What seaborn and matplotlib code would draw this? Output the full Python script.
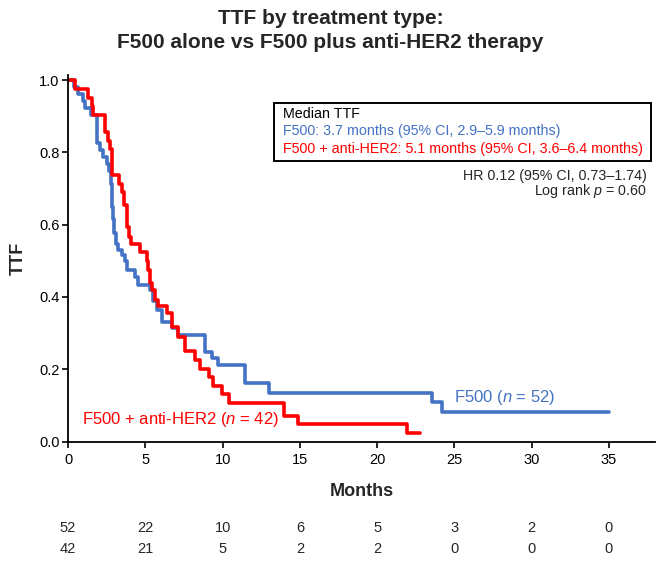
import matplotlib
matplotlib.use("Agg")
from matplotlib import pyplot as plt
from matplotlib.patches import Rectangle
import pandas as pd
import seaborn as sns

# Courbes de Kaplan-Meier (mois, TTF)
F500_MOIS = [0, 0.39, 0.67, 0.95, 1.07, 1.5, 1.9, 2.07, 2.29, 2.5, 2.67, 2.78, 2.83, 2.93,
             3.0, 3.1, 3.25, 3.47, 3.69, 3.84, 4.33, 4.55, 5.3, 5.5, 5.74, 6.06, 6.7, 7.1,
             8.86, 9.29, 9.72, 11.45, 13.02, 23.56, 24.23, 35.0]
F500_TTF = [1.0, 0.981, 0.962, 0.942, 0.923, 0.904, 0.827, 0.808, 0.788, 0.769, 0.75, 0.712,
            0.65, 0.615, 0.577, 0.548, 0.53, 0.516, 0.5, 0.474, 0.456, 0.433, 0.419, 0.39,
            0.364, 0.331, 0.313, 0.295, 0.248, 0.23, 0.212, 0.161, 0.135, 0.11, 0.081, 0.081]

HER2_MOIS = [0, 0.45, 1.31, 1.53, 1.64, 2.39, 2.61, 2.72, 2.83, 3.32, 3.47, 3.62, 3.79, 3.97,
             4.05, 4.66, 5.09, 5.2, 5.3, 5.41, 5.63, 5.84, 6.38, 6.7, 7.13, 7.57, 8.2, 8.54,
             9.1, 9.4, 9.94, 10.43, 13.99, 14.86, 21.95, 22.77]
HER2_TTF = [1.0, 0.976, 0.952, 0.929, 0.905, 0.857, 0.833, 0.81, 0.738, 0.714, 0.69, 0.655,
            0.594, 0.567, 0.548, 0.524, 0.5, 0.476, 0.438, 0.419, 0.393, 0.374, 0.355, 0.318,
            0.29, 0.25, 0.226, 0.202, 0.178, 0.155, 0.131, 0.107, 0.071, 0.048, 0.024, 0.024]

XTICKS = [0, 5, 10, 15, 20, 25, 30, 35]
YTICKS = [0.0, 0.2, 0.4, 0.6, 0.8, 1.0]
RISQUE_F500 = [52, 22, 10, 6, 5, 3, 2, 0]
RISQUE_HER2 = [42, 21, 5, 2, 2, 0, 0, 0]

BLEU = "#4472C4"
ROUGE = "#FF0000"

sns.set_theme(style="ticks")
plt.rcParams["font.family"] = ["Liberation Sans", "DejaVu Sans"]
plt.rcParams["mathtext.fontset"] = "custom"
plt.rcParams["mathtext.rm"] = "Liberation Sans"
plt.rcParams["mathtext.it"] = "Liberation Sans:italic"

df = pd.concat([
    pd.DataFrame({"mois": F500_MOIS, "ttf": F500_TTF, "groupe": "F500"}),
    pd.DataFrame({"mois": HER2_MOIS, "ttf": HER2_TTF, "groupe": "F500 + anti-HER2"}),
])

fig = plt.figure(figsize=(6.61, 5.61), dpi=100)
ax = fig.add_axes([0.1029, 0.213, 0.888, 0.653])

sns.lineplot(data=df, x="mois", y="ttf", hue="groupe", palette=[BLEU, ROUGE],
             estimator=None, sort=False, drawstyle="steps-post", linewidth=2.6,
             legend=False, ax=ax)

ax.set_xlim(0, 37.98)
ax.set_ylim(0, 1.014)
ax.set_xticks(XTICKS)
ax.set_yticks(YTICKS)
ax.set_yticklabels([f"{v:.1f}" for v in YTICKS])
sns.despine(ax=ax)
for s in ["left", "bottom"]:
    ax.spines[s].set_linewidth(1.3)
    ax.spines[s].set_color("black")
ax.tick_params(direction="out", length=4, width=1.2, labelsize=10.5, colors="black", pad=2)
ax.tick_params(axis="x", pad=4)

ax.set_xlabel("Months", fontsize=13, fontweight="bold", labelpad=12)
ax.set_ylabel("TTF", fontsize=13, fontweight="bold", labelpad=9)

# etiquettes des courbes
ax.text(25.0, 0.123, "F500 ($n$ = 52)", color=BLEU, fontsize=12, va="center", ha="left")
ax.text(0.88, 0.062, "F500 + anti-HER2 ($n$ = 42)", color=ROUGE, fontsize=12,
        va="center", ha="left")

# nombre de patients a risque
for x, a, b in zip(XTICKS, RISQUE_F500, RISQUE_HER2):
    ax.text(x, -0.236, str(a), ha="center", va="center", fontsize=10.5,
            transform=ax.get_xaxis_transform(), clip_on=False)
    ax.text(x, -0.294, str(b), ha="center", va="center", fontsize=10.5,
            transform=ax.get_xaxis_transform(), clip_on=False)

# cadre des medianes
W, H = 661, 561
fig.add_artist(Rectangle((274 / W, 1 - 161 / H), (651 - 274) / W, (161 - 103) / H,
                         transform=fig.transFigure, fill=False, edgecolor="black",
                         linewidth=1.4))
fig.text(283 / W, 1 - 114 / H, "Median TTF", fontsize=10.3, color="black", va="center")
fig.text(283 / W, 1 - 131 / H, "F500: 3.7 months (95% CI, 2.9\u20135.9 months)",
         fontsize=10.3, color=BLEU, va="center")
fig.text(283 / W, 1 - 149 / H, "F500 + anti-HER2: 5.1 months (95% CI, 3.6\u20136.4 months)",
         fontsize=10.3, color=ROUGE, va="center")
fig.text(647 / W, 1 - 176 / H, "HR 0.12 (95% CI, 0.73\u20131.74)", fontsize=10.3,
         ha="right", va="center")
fig.text(647 / W, 1 - 191 / H, "Log rank $p$ = 0.60", fontsize=10.3, ha="right", va="center")

fig.text(0.5, 1 - 18 / H, "TTF by treatment type:", fontsize=15, fontweight="bold",
         ha="center", va="center")
fig.text(0.5, 1 - 42 / H, "F500 alone vs F500 plus anti-HER2 therapy", fontsize=15,
         fontweight="bold", ha="center", va="center")

fig.savefig("out.png", dpi=100)
